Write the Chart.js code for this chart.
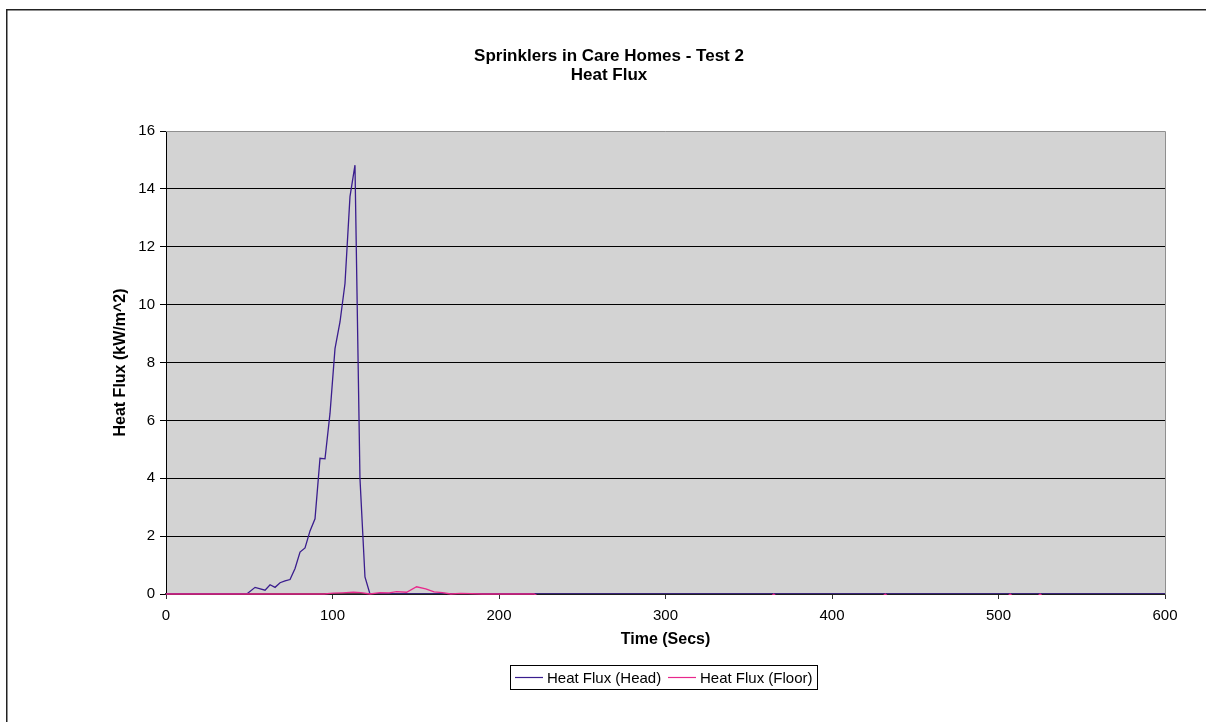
<!DOCTYPE html>
<html>
<head>
<meta charset="utf-8">
<title>Sprinklers in Care Homes - Test 2</title>
<script src="https://cdn.jsdelivr.net/npm/chart.js@4/dist/chart.umd.min.js"></script>
<style>
  html, body { margin: 0; padding: 0; background: #fff; }
  #wrap { width: 1206px; height: 722px; position: relative; }
</style>
</head>
<body>
<div id="wrap"><canvas id="fluxChart" width="1206" height="722"></canvas></div>
<script>
// Heat flux readings, test 2

const titleLines = ['Sprinklers in Care Homes - Test 2', 'Heat Flux'];
const xTitle = 'Time (Secs)';
const yTitle = 'Heat Flux (kW/m^2)';
const seriesNames = ['Heat Flux (Head)', 'Heat Flux (Floor)'];
const seriesColors = ['#3a1d8e', '#e8288c'];

const xTicks = [0, 100, 200, 300, 400, 500, 600];
const yTicks = [0, 2, 4, 6, 8, 10, 12, 14, 16];

// Head gauge (secs / kW/m^2)
const headTimes = [0, 12, 24, 36, 48.5, 53.5, 59.5, 62.5, 65.5, 68.5, 71.5, 74.5, 77.5,
  80.5, 83.5, 86.5, 89.5, 92.5, 95.5, 98.5, 101.5, 104.5, 107.5, 110.5, 113.5,
  116.5, 119.5, 122.5, 140, 200, 300, 400, 500, 600];
const headValues = [0, 0, 0, 0, 0, 0.23, 0.13, 0.32, 0.23, 0.39, 0.45, 0.5, 0.88,
  1.45, 1.59, 2.18, 2.6, 4.69, 4.67, 6.24, 8.48, 9.4, 10.73, 13.73, 14.82,
  3.99, 0.59, 0, 0, 0, 0, 0, 0, 0];

// Floor gauge (secs / kW/m^2)
const floorTimes = [0, 50, 95, 100.5, 106, 112.5, 117, 122.5, 128.5, 134, 138.5, 144.5,
  150.5, 156, 161, 166, 171, 177, 190, 210, 221, 226, 362, 365, 368, 429, 432, 435,
  504, 507, 510, 522, 525, 528, 600];
const floorValues = [0, 0, 0, 0.03, 0.04, 0.06, 0.05, 0, 0.05, 0.04, 0.08, 0.06,
  0.25, 0.18, 0.07, 0.05, 0, 0.02, 0, 0, 0, -0.15, -0.15, 0, -0.15, -0.15, 0, -0.15,
  -0.15, 0, -0.15, -0.15, 0, -0.15, -0.15];

const FONT = '"Liberation Sans", Arial, sans-serif';

function toPoints(xs, ys) {
  return xs.map((x, i) => ({ x: x, y: ys[i] }));
}

// Frame, grey plot area, titles and legend box
const decorPlugin = {
  id: 'decor',
  beforeDraw(chart) {
    const { ctx, chartArea: a } = chart;
    ctx.save();
    ctx.fillStyle = '#fff';
    ctx.fillRect(0, 0, chart.width, chart.height);
    ctx.strokeStyle = '#222';
    ctx.lineWidth = 1.5;
    ctx.strokeRect(6.75, 9.75, 1260, 760);
    ctx.fillStyle = '#d3d3d3';
    ctx.fillRect(a.left, a.top, a.right - a.left, a.bottom - a.top);
    ctx.restore();
  },
  beforeDatasetsDraw(chart) {
    const { ctx, chartArea: a } = chart;
    ctx.save();
    ctx.strokeStyle = '#8f8f8f';
    ctx.lineWidth = 1;
    ctx.beginPath();
    ctx.moveTo(a.left, a.top + 0.5);
    ctx.lineTo(a.right + 0.5, a.top + 0.5);
    ctx.lineTo(a.right + 0.5, a.bottom);
    ctx.stroke();
    ctx.restore();
  },
  afterDraw(chart) {
    const { ctx, chartArea: a } = chart;
    ctx.save();
    ctx.fillStyle = '#000';
    ctx.textAlign = 'center';
    ctx.textBaseline = 'middle';

    ctx.font = 'bold 17px ' + FONT;
    ctx.fillText(titleLines[0], 609, 56);
    ctx.fillText(titleLines[1], 609, 75);

    ctx.font = 'bold 16px ' + FONT;
    ctx.fillText(xTitle, (a.left + a.right) / 2, 640);

    ctx.save();
    ctx.translate(121, (a.top + a.bottom) / 2);
    ctx.rotate(-Math.PI / 2);
    ctx.fillText(yTitle, 0, 0);
    ctx.restore();

    // legend
    ctx.strokeStyle = '#000';
    ctx.lineWidth = 1;
    ctx.strokeRect(510.5, 665.5, 307, 24);
    ctx.font = '15px ' + FONT;
    ctx.textAlign = 'left';
    const items = [
      { x: 515, name: seriesNames[0], color: seriesColors[0] },
      { x: 668, name: seriesNames[1], color: seriesColors[1] }
    ];
    items.forEach(it => {
      ctx.strokeStyle = it.color;
      ctx.lineWidth = 1.2;
      ctx.beginPath();
      ctx.moveTo(it.x, 677.5);
      ctx.lineTo(it.x + 28, 677.5);
      ctx.stroke();
      ctx.fillStyle = '#000';
      ctx.fillText(it.name, it.x + 32, 678.5);
    });
    ctx.restore();
  }
};

const ctx = document.getElementById('fluxChart').getContext('2d');
new Chart(ctx, {
  type: 'line',
  data: {
    datasets: [
      {
        label: seriesNames[0],
        data: toPoints(headTimes, headValues),
        borderColor: seriesColors[0],
        borderWidth: 1.3,
        pointRadius: 0,
        tension: 0,
        order: 1
      },
      {
        label: seriesNames[1],
        data: toPoints(floorTimes, floorValues),
        borderColor: seriesColors[1],
        borderWidth: 1.3,
        pointRadius: 0,
        tension: 0,
        order: 0,
        clip: { left: 2, top: 2, right: 2, bottom: 1 }
      }
    ]
  },
  options: {
    responsive: false,
    animation: false,
    events: [],
    layout: { padding: { left: 0, top: 131, right: 41, bottom: 0 } },
    plugins: {
      legend: { display: false },
      title: { display: false },
      tooltip: { enabled: false }
    },
    scales: {
      x: {
        type: 'linear',
        min: xTicks[0],
        max: xTicks[xTicks.length - 1],
        afterFit: s => { s.height = 128; },
        afterBuildTicks: s => { s.ticks = xTicks.map(v => ({ value: v })); },
        grid: {
          drawOnChartArea: false,
          drawTicks: true,
          tickLength: 5,
          color: '#333'
        },
        border: { color: '#3c3c3c', width: 1.5 },
        ticks: {
          color: '#000',
          padding: 8,
          maxRotation: 0,
          font: { family: FONT, size: 15 }
        }
      },
      y: {
        type: 'linear',
        min: yTicks[0],
        max: yTicks[yTicks.length - 1],
        afterFit: s => { s.width = 166; },
        afterBuildTicks: s => { s.ticks = yTicks.map(v => ({ value: v })); },
        grid: {
          drawTicks: true,
          tickLength: 6,
          color: c => (c.tick && c.tick.value === 16) ? 'rgba(0,0,0,0)' : '#000',
          tickColor: '#000'
        },
        border: { color: '#000', width: 1 },
        ticks: {
          color: '#000',
          padding: 5,
          font: { family: FONT, size: 15 }
        }
      }
    }
  },
  plugins: [decorPlugin]
});
</script>
</body>
</html>
